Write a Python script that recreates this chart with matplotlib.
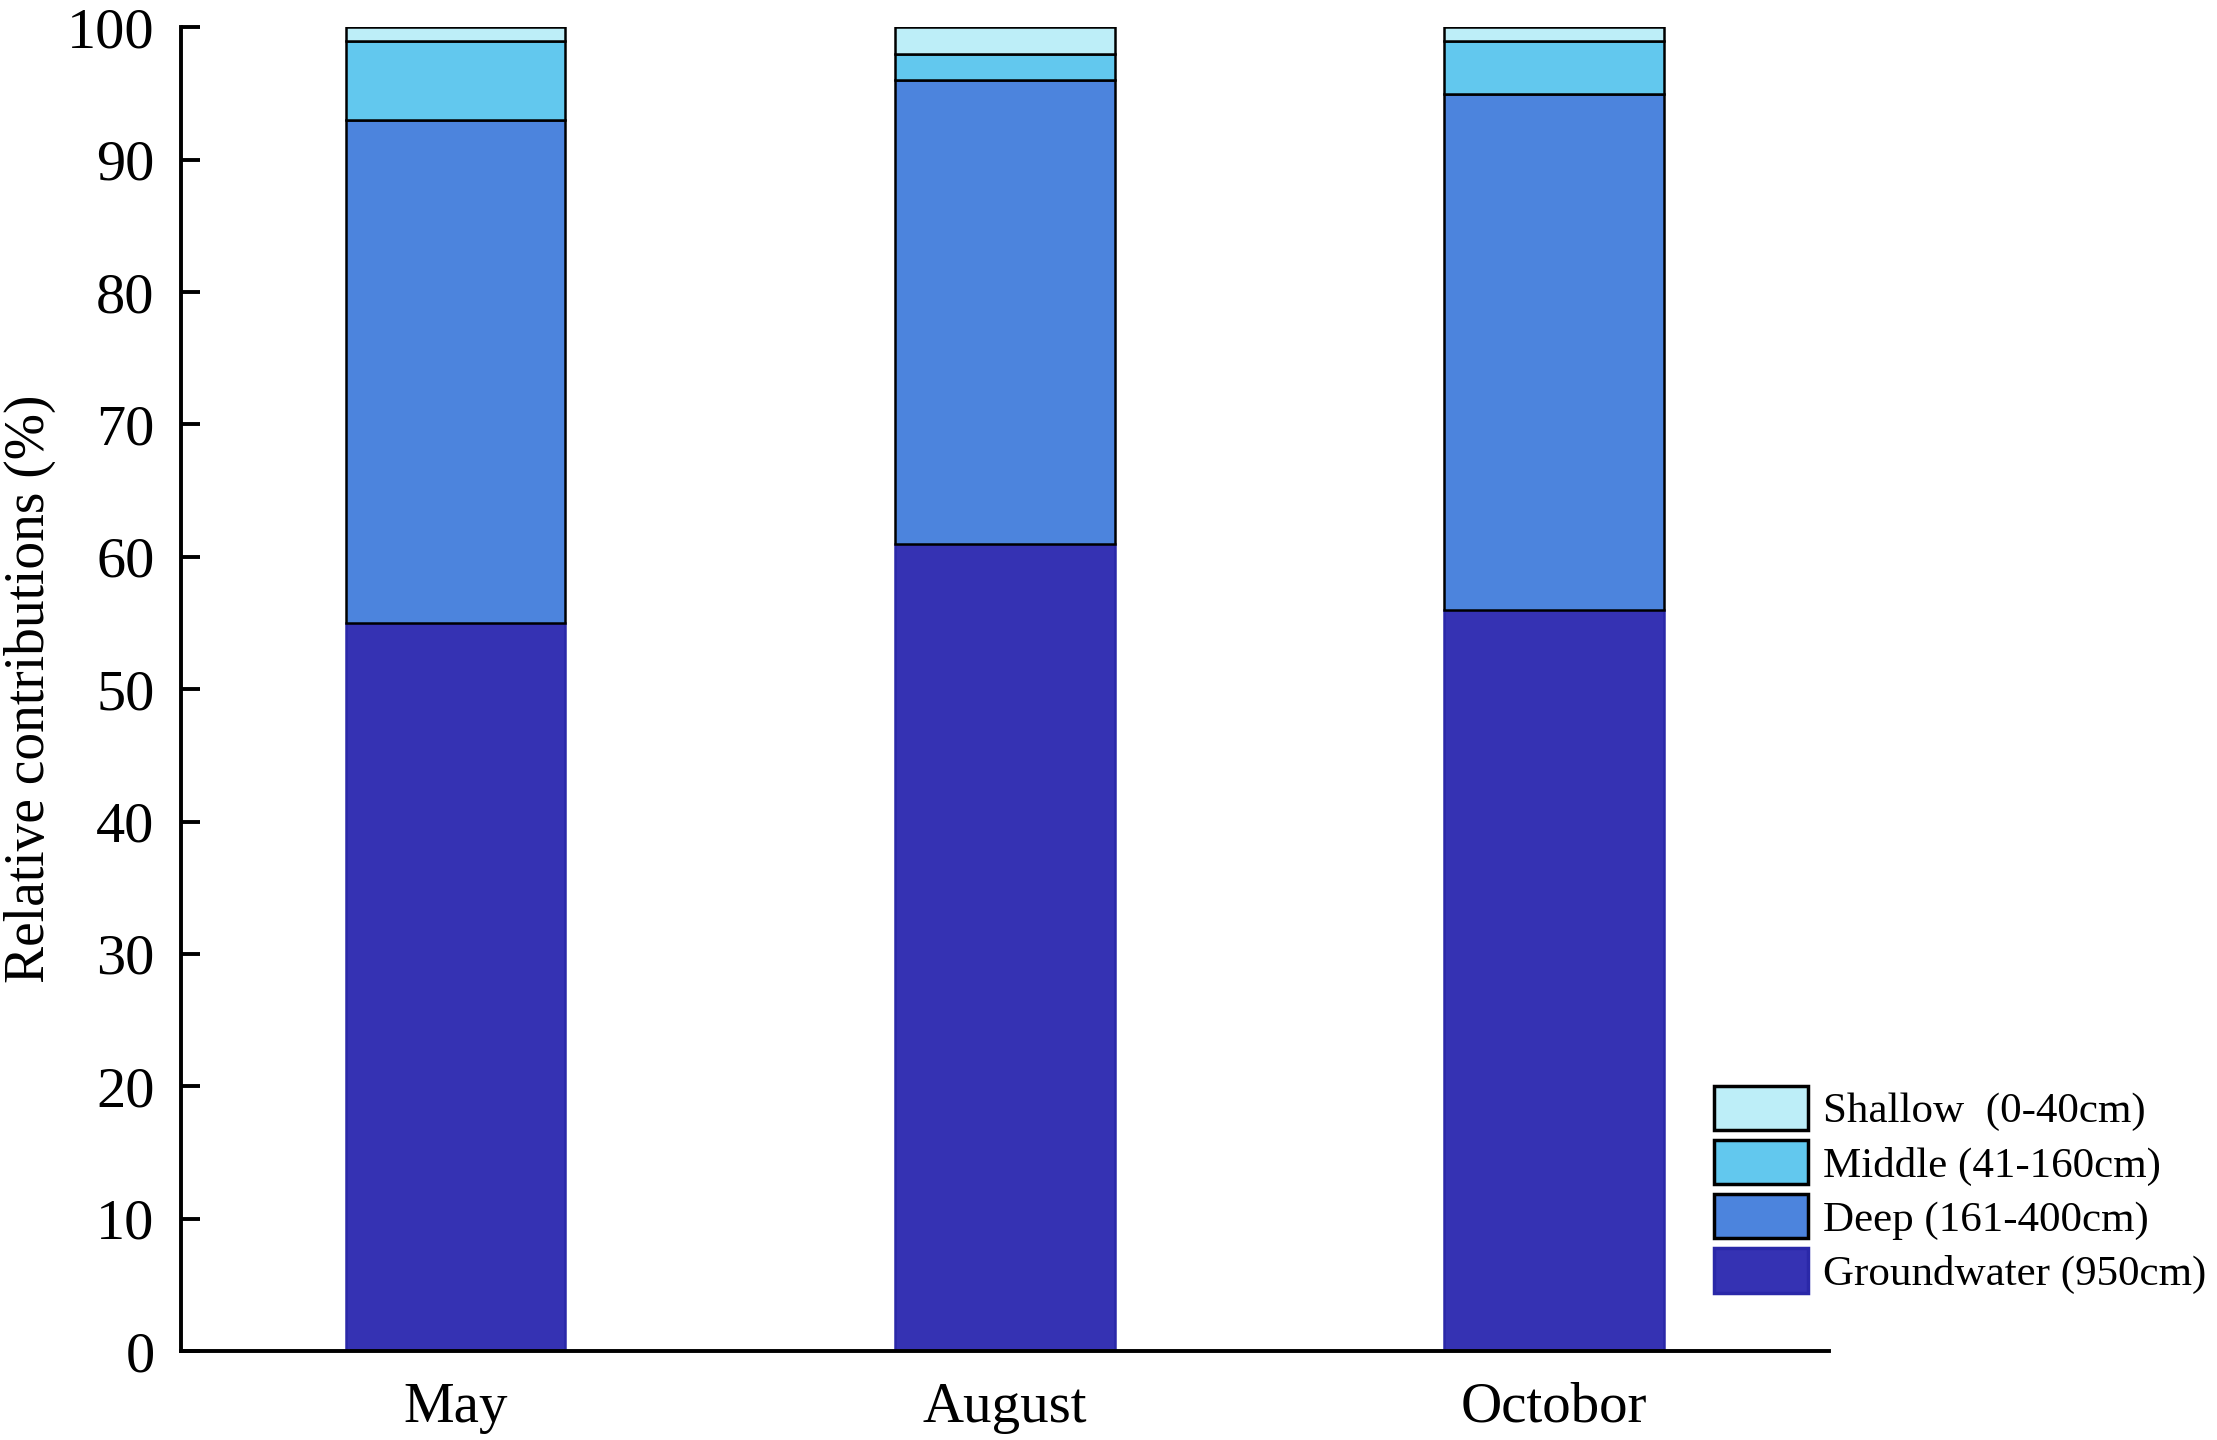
import matplotlib.pyplot as plt
from matplotlib.patches import Patch

plt.rcParams["font.family"] = ["Liberation Serif", "DejaVu Serif"]

# ----------------------------
# Data (relative contributions, %)
# ----------------------------
months = ["May", "August", "Octobor"]
groundwater = [55, 61, 56]
deep = [38, 35, 39]
middle = [6, 2, 4]
shallow = [1, 2, 1]

layer_labels = [
    "Groundwater (950cm)",
    "Deep (161-400cm)",
    "Middle (41-160cm)",
    "Shallow  (0-40cm)",
]
layer_colours = ["#3532B3", "#4C84DD", "#62C8EE", "#BDEEF8"]
edge_colours = ["#2A28A8", "black", "black", "black"]

fig = plt.figure(figsize=(22.17, 14.4), dpi=100)
ax = fig.add_axes([0.0816, 0.0618, 0.825 - 0.0816, 0.981 - 0.0618])

x = list(range(len(months)))
bottom = [0] * len(months)
for vals, col, ec in zip([groundwater, deep, middle, shallow], layer_colours, edge_colours):
    ax.bar(x, vals, width=0.4, bottom=bottom, color=col, edgecolor=ec, linewidth=1.8, zorder=2)
    bottom = [b + v for b, v in zip(bottom, vals)]

ax.set_xlim(-0.5, 2.5)
ax.set_ylim(0, 100)
ax.set_xticks(x)
ax.set_xticklabels(months)
ax.set_yticks(range(0, 101, 10))

for side in ["top", "right"]:
    ax.spines[side].set_visible(False)
for side in ["left", "bottom"]:
    ax.spines[side].set_linewidth(2.8)
    ax.spines[side].set_zorder(3)

ax.tick_params(axis="y", direction="in", length=14, width=2.8, labelsize=42, pad=19)
ax.tick_params(axis="x", direction="in", length=21, width=2.8, labelsize=41, pad=22)
for t in ax.get_xticklines():
    t.set_zorder(4)

ax.set_ylabel("Relative contributions (%)", fontsize=40)
ax.yaxis.set_label_coords(-0.076, 0.5)

handles = [
    Patch(facecolor=c, edgecolor=e, linewidth=2.5)
    for c, e in zip(layer_colours, edge_colours)
][::-1]
fig.legend(
    handles, layer_labels[::-1],
    loc="upper left",
    bbox_to_anchor=(0.773, 0.246),
    frameon=False,
    fontsize=31,
    handlelength=2.2,
    handleheight=1.2,
    handletextpad=0.33,
    labelspacing=0.2,
    borderpad=0.0,
    borderaxespad=0.0,
)

fig.savefig("out.png", dpi=100, facecolor="white")
